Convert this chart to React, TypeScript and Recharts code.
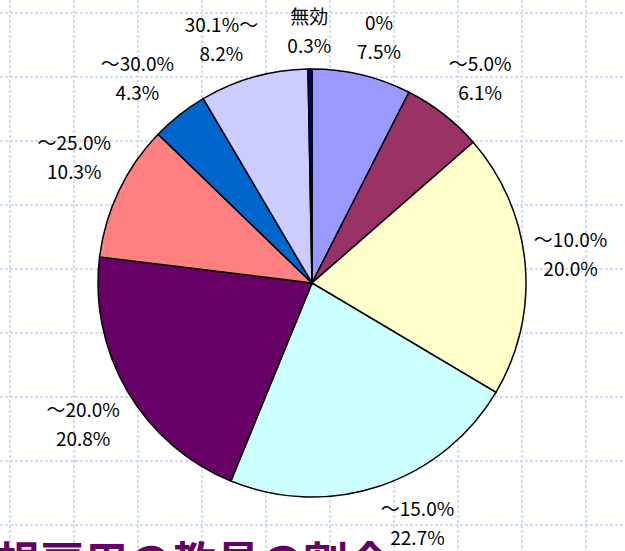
import React from 'react'
import { PieChart, Pie, Cell } from 'recharts'

const categories = ['0%', '～5.0%', '～10.0%', '～15.0%', '～20.0%', '～25.0%', '～30.0%', '30.1%～', '無効']
const shares = [7.5, 6.1, 20.0, 22.7, 20.8, 10.3, 4.3, 8.2, 0.3]
const sliceColors = ['#9999ff', '#993366', '#ffffcc', '#ccffff', '#660066', '#ff8080', '#0066cc', '#ccccff', '#000080']
const title = '非正規雇用の教員の割合'

const W = 625
const H = 551
const RAD = Math.PI / 180
const FONT = 19
const LINE = 29

const chartData = categories.map((name, i) => ({ name, value: shares[i] }))

// rough text width for the label box
const textWidth = (s: string) =>
  [...s].reduce((w, ch) => {
    if (ch.charCodeAt(0) > 0x2000) return w + FONT
    if (ch === '%') return w + FONT * 0.85
    if (ch === '.') return w + FONT * 0.28
    return w + FONT * 0.57
  }, 0)

function Grid() {
  const xs: number[] = []
  const ys: number[] = []
  for (let x = 10; x < W; x += 64) xs.push(x)
  for (let y = 13; y < H; y += 64) ys.push(y)
  return (
    <svg width={W} height={H} style={{ position: 'absolute', left: 0, top: 0 }}>
      <rect width={W} height={H} fill="#fff" />
      {xs.map(x => (
        <line key={'x' + x} x1={x} x2={x} y1={0} y2={H} stroke="#d0dbf5" strokeWidth={2} strokeDasharray="3 2" />
      ))}
      {ys.map(y => (
        <line key={'y' + y} x1={0} x2={W} y1={y} y2={y} stroke="#d0dbf5" strokeWidth={2} strokeDasharray="3 2" />
      ))}
    </svg>
  )
}

const clamp = (v: number) => Math.max(-1, Math.min(1, v))

const renderLabel = (props: any) => {
  const { cx, cy, midAngle, outerRadius, index } = props
  const top = categories[index]
  const bottom = `${shares[index].toFixed(1)}%`
  const ux = Math.cos(-midAngle * RAD)
  const uy = Math.sin(-midAngle * RAD)
  const r = outerRadius + 9
  const px = cx + r * ux
  const py = cy + r * uy
  const w = Math.max(textWidth(top), textWidth(bottom))
  const h = LINE * 2
  const x = px + clamp(ux * 3) * w / 2
  const y = py + clamp(uy * 3) * h / 2
  return (
    <text
      x={x}
      y={y}
      textAnchor="middle"
      fill="#000"
      fontSize={FONT}
      fontFamily="'Noto Sans CJK JP', sans-serif"
    >
      <tspan x={x} dy={-7.5}>{top}</tspan>
      <tspan x={x} dy={LINE}>{bottom}</tspan>
    </text>
  )
}

export default function App() {
  return (
    <div style={{ position: 'fixed', left: 0, top: 0, width: W, height: H, overflow: 'hidden', background: '#fff' }}>
      <Grid />
      <div style={{ position: 'absolute', left: 0, top: 0 }}>
        <PieChart width={W} height={H} margin={{ top: 0, right: 0, bottom: 0, left: 0 }} style={{ overflow: 'visible' }}>
          <Pie
            data={chartData}
            dataKey="value"
            nameKey="name"
            cx={312}
            cy={283}
            outerRadius={214}
            startAngle={90}
            endAngle={-270}
            stroke="#000"
            strokeWidth={1.5}
            label={renderLabel}
            labelLine={false}
            isAnimationActive={false}
          >
            {chartData.map((d, i) => (
              <Cell key={d.name} fill={sliceColors[i]} />
            ))}
          </Pie>
        </PieChart>
      </div>
      <svg width={W} height={H} style={{ position: 'absolute', left: 0, top: 0, pointerEvents: 'none' }}>
        <text
          x={392}
          y={579}
          textAnchor="end"
          fill="#660066"
          fontSize={44}
          fontWeight="bold"
          fontFamily="'Noto Sans CJK JP', sans-serif"
        >
          {title}
        </text>
      </svg>
    </div>
  )
}
